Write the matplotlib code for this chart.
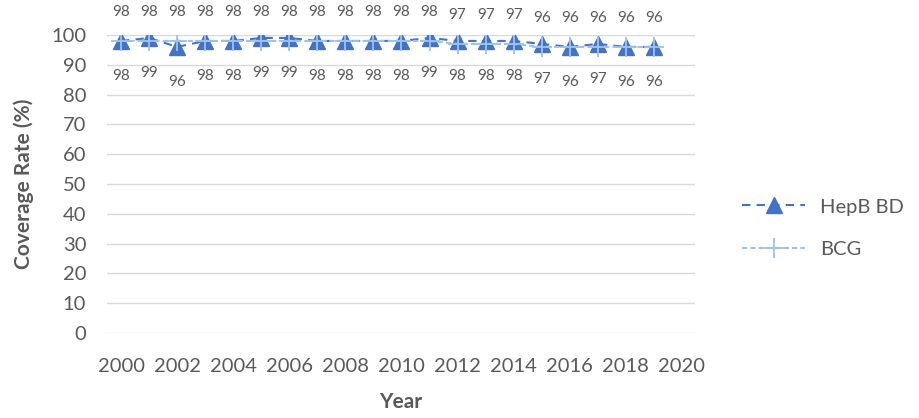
import matplotlib
matplotlib.use("Agg")
import matplotlib.pyplot as plt

years = list(range(2000, 2020))
hepb_bd = [98, 99, 96, 98, 98, 99, 99, 98, 98, 98, 98, 99, 98, 98, 98, 97, 96, 97, 96, 96]
bcg = [98, 98, 98, 98, 98, 98, 98, 98, 98, 98, 98, 98, 97, 97, 97, 96, 96, 96, 96, 96]

plt.rcParams['font.family'] = ['Lato', 'DejaVu Sans']
txt = '#595959'

fig = plt.figure(figsize=(9.2, 4.18), dpi=100)
ax = fig.add_axes([0.1163, 0.2033, 0.639, 0.713])

ax.plot(years, hepb_bd, linestyle=(0, (4, 3)), color='#4472C4', linewidth=1.5,
        marker='^', markersize=11, markerfacecolor='#4472C4', markeredgecolor='#4472C4',
        label='HepB BD', zorder=3)
ax.plot(years, bcg, linestyle=(0, (2.5, 1.5)), color='#9DC3E6', linewidth=1.5,
        marker='+', markersize=14, markeredgewidth=1.3,
        label='BCG', zorder=4)

# data labels: HepB BD below, BCG above
for x, v in zip(years, hepb_bd):
    ax.annotate(str(v), (x, v), xytext=(0, -25), textcoords='offset points',
                ha='center', va='center', fontsize=11, color=txt)
for x, v in zip(years, bcg):
    ax.annotate(str(v), (x, v), xytext=(0, 21), textcoords='offset points',
                ha='center', va='center', fontsize=11, color=txt, annotation_clip=False)

ax.set_xlim(1999.5, 2020.46)
ax.set_ylim(0, 100)
ax.set_xticks(range(2000, 2021, 2))
ax.set_yticks(range(0, 101, 10))
ax.grid(axis='y', color='#D9D9D9', linewidth=1)
ax.set_axisbelow(True)
for s in ax.spines.values():
    s.set_visible(False)
ax.tick_params(length=0, labelsize=14.5, colors=txt)
ax.tick_params(axis='y', pad=15)
ax.tick_params(axis='x', pad=18)

ax.set_xlabel('Year', fontsize=15, fontweight='bold', color=txt, labelpad=12)
ax.set_ylabel('Coverage Rate (%)', fontsize=15, fontweight='bold', color=txt, labelpad=12)

ax.legend(loc='center left', bbox_to_anchor=(1.05, 0.352), frameon=False,
          fontsize=14.5, labelcolor=txt, handlelength=3.1, handletextpad=0.75,
          labelspacing=1.25)

fig.savefig('out.png', dpi=100)
